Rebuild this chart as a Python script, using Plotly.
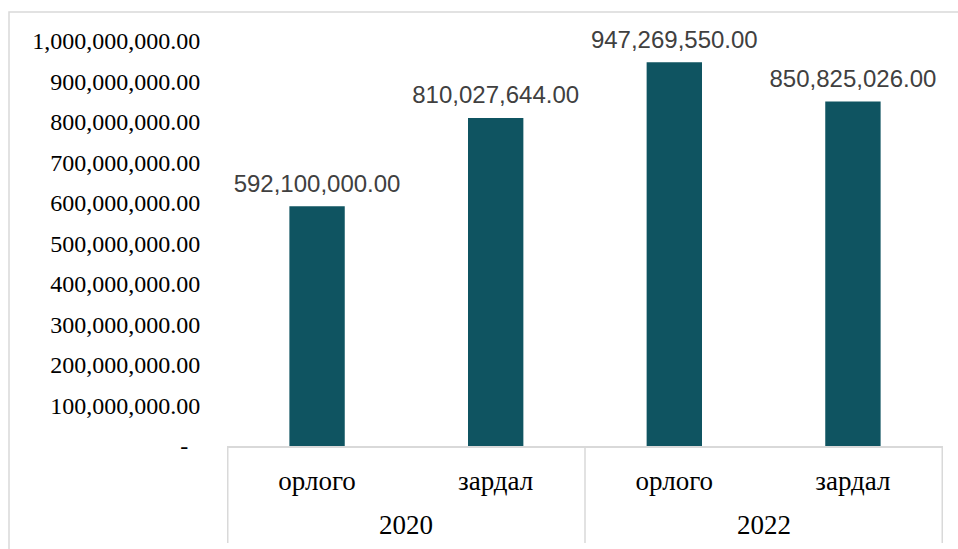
import plotly.graph_objects as go

years = ["2020", "2020", "2022", "2022"]
kinds = ["орлого", "зардал", "орлого", "зардал"]
values = [592100000.00, 810027644.00, 947269550.00, 850825026.00]
year_groups = ["2020", "2022"]

y_ticks = [0, 100e6, 200e6, 300e6, 400e6, 500e6, 600e6, 700e6, 800e6, 900e6, 1000e6]
y_tick_text = ["-\u00a0\u00a0"] + [f"{v:,.2f}" for v in y_ticks[1:]]

x_cats = [f"{y} {k}" for y, k in zip(years, kinds)]
labels = [f"{v:,.2f}" for v in values]

W, H = 958, 549
L, R, T, B = 227, 15, 41, 103
pw, ph = W - L - R, H - T - B
GRID = "#d9d9d9"

fig = go.Figure()
fig.add_trace(go.Bar(
    x=x_cats, y=values,
    marker=dict(color="#0F5461", line=dict(width=0)),
    width=0.31,
    hoverinfo="x+y",
))
# value labels above bars
fig.add_trace(go.Scatter(
    x=x_cats, y=values,
    mode="markers+text",
    marker=dict(size=12, opacity=0),
    text=labels, textposition="top center",
    textfont=dict(family="Liberation Sans, Arial", size=24, color="#404040"),
    cliponaxis=False, hoverinfo="skip",
))

# outer chart border
fig.add_shape(type="rect", xref="paper", yref="paper",
              x0=(9 - L) / pw, x1=(970 - L) / pw,
              y0=(H - 560 - B) / ph, y1=(H - 12 - B) / ph,
              line=dict(color=GRID, width=1.5), layer="below")

# group dividers and year labels under the category labels
n_per_group = len(x_cats) // len(year_groups)
div_bottom = (446 - 543) / ph
for gi, yr in enumerate(year_groups):
    fig.add_shape(type="line", xref="x", yref="paper",
                  x0=gi * n_per_group - 0.5, x1=gi * n_per_group - 0.5,
                  y0=0, y1=div_bottom, line=dict(color=GRID, width=1.5))
    fig.add_annotation(xref="x", yref="paper",
                       x=gi * n_per_group + (n_per_group - 1) / 2,
                       y=(446 - 525) / ph, yanchor="middle",
                       text=yr, showarrow=False,
                       font=dict(size=27, color="black"))
fig.add_shape(type="line", xref="x", yref="paper",
              x0=len(x_cats) - 0.5, x1=len(x_cats) - 0.5,
              y0=0, y1=div_bottom, line=dict(color=GRID, width=1.5))

fig.update_layout(
    width=W, height=H,
    margin=dict(l=L, r=R, t=T, b=B, autoexpand=False),
    paper_bgcolor="white", plot_bgcolor="white",
    font=dict(family="Liberation Serif, Times New Roman", size=24, color="black"),
    showlegend=False,
    xaxis=dict(
        type="category",
        tickvals=x_cats, ticktext=kinds,
        showline=True, linecolor=GRID, linewidth=1.5,
        ticks="", showgrid=False,
        tickfont=dict(size=27),
        ticklabelstandoff=10,
    ),
    yaxis=dict(
        range=[0, 1e9],
        tickvals=y_ticks, ticktext=y_tick_text,
        showgrid=False, zeroline=False, showline=False,
        ticks="outside", ticklen=21, tickcolor="rgba(0,0,0,0)",
        tickfont=dict(size=24),
    ),
)

fig.write_html("out.html", config={"displayModeBar": False},
               post_script="document.body.style.margin='0';")
